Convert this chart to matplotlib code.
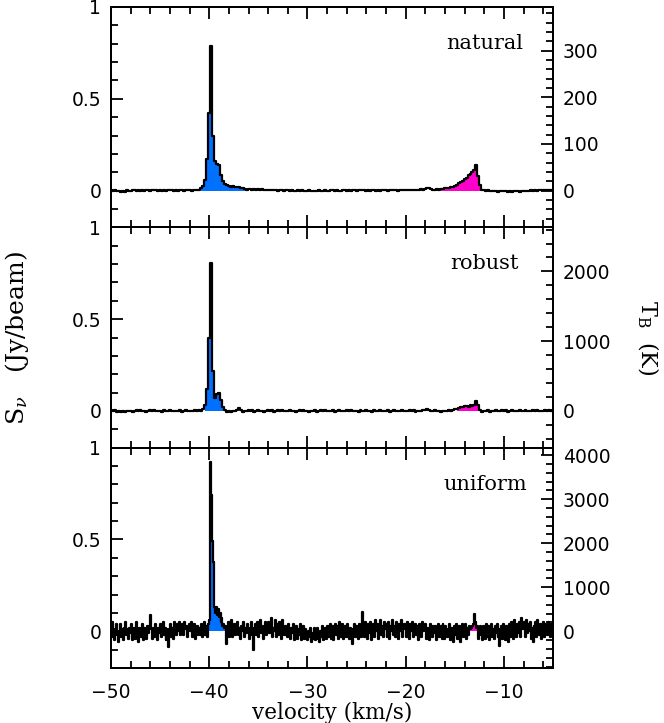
import numpy as np
import matplotlib
matplotlib.use("Agg")
import matplotlib.pyplot as plt
from matplotlib.ticker import MultipleLocator, FuncFormatter

# ---------------- data ----------------
v_start = -50.0
step_coarse = 0.2   # natural / robust channel width (km/s)
step_fine = 0.1     # uniform channel width (km/s)

flux_natural = [
    0.002, -0.003, 0.001, -0.004, 0.000, -0.006, -0.002, -0.005, 0.001, -0.003,
    -0.002, 0.001, 0.003, -0.001, 0.002, 0.000, 0.004, -0.002, 0.001, 0.003,
    -0.001, 0.002, 0.004, 0.001, -0.002, 0.003, 0.000, 0.002, -0.001, 0.003,
    0.001, 0.004, -0.001, 0.002, 0.000, 0.003, 0.001, -0.002, 0.002, 0.004,
    0.002, 0.000, 0.003, 0.001, 0.004, 0.006, 0.012, 0.025, 0.060, 0.170,
    0.420, 0.790, 0.300, 0.160, 0.145, 0.140, 0.085, 0.050, 0.035, 0.028,
    0.025, 0.022, 0.024, 0.020, 0.022, 0.018, 0.015, 0.012, 0.010, 0.006,
    0.008, 0.010, 0.006, 0.009, 0.004, 0.007, 0.005, 0.008, 0.003, 0.006,
    0.004, 0.002, 0.005, 0.001, 0.003, 0.000, 0.004, 0.002, -0.001, 0.003,
    0.001, -0.002, 0.002, 0.000, -0.003, 0.001, -0.001, 0.002, -0.002, 0.000,
    -0.003, 0.001, -0.002, -0.004, 0.000, -0.002, 0.001, -0.003, -0.001, 0.002,
    0.000, -0.002, 0.001, 0.003, -0.001, 0.002, 0.000, -0.002, 0.002, 0.001,
    -0.001, 0.002, 0.000, 0.003, 0.001, -0.001, 0.002, 0.004, 0.001, 0.003,
    0.000, 0.002, -0.001, 0.001, 0.003, 0.000, 0.002, -0.002, 0.001, 0.003,
    0.001, -0.001, 0.002, 0.004, 0.001, 0.003, 0.000, 0.002, 0.004, 0.002,
    0.003, 0.001, 0.004, 0.002, 0.005, 0.003, 0.006, 0.004, 0.007, 0.005,
    0.008, 0.014, 0.012, 0.010, 0.006, 0.005, 0.007, 0.006, 0.008, 0.010,
    0.012, 0.015, 0.014, 0.020, 0.018, 0.025, 0.030, 0.040, 0.048, 0.055,
    0.062, 0.070, 0.085, 0.090, 0.100, 0.110, 0.140, 0.080, 0.030, 0.005,
    0.002, -0.002, 0.001, -0.003, 0.000, -0.004, -0.002, -0.005, -0.003, -0.001,
    -0.004, -0.002, -0.006, -0.003, -0.005, -0.001, -0.004, -0.002, -0.005, -0.003,
    -0.001, -0.003, 0.000, -0.002, 0.001, -0.001, 0.002, 0.000, 0.003, 0.001,
    0.004, 0.002, 0.006, 0.003, 0.001, 0.003,
]

flux_robust = [
    0.003, -0.002, 0.004, -0.005, 0.001, -0.004, 0.002, -0.006, 0.000, -0.003,
    0.002, -0.004, 0.001, 0.003, -0.002, 0.004, -0.001, 0.002, -0.005, 0.001,
    0.003, -0.002, 0.004, 0.000, -0.003, 0.002, -0.004, 0.003, 0.001, -0.002,
    0.004, 0.000, -0.003, 0.002, -0.001, 0.003, -0.004, 0.001, 0.004, -0.002,
    0.002, -0.003, 0.001, 0.004, -0.002, 0.003, 0.000, 0.010, 0.030, 0.120,
    0.400, 0.805, 0.220, 0.070, 0.090, 0.100, 0.060, 0.020, 0.005, -0.004,
    0.002, -0.005, 0.001, -0.003, 0.004, 0.018, 0.006, -0.004, 0.002, -0.003,
    0.003, -0.002, 0.004, -0.004, 0.001, 0.003, -0.003, 0.002, -0.005, 0.001,
    0.004, -0.002, 0.003, -0.004, 0.000, 0.005, -0.002, 0.003, -0.003, 0.002,
    -0.001, 0.004, -0.003, 0.002, -0.004, 0.001, 0.003, -0.002, 0.004, -0.003,
    0.001, -0.004, 0.002, -0.002, 0.003, -0.005, 0.000, 0.003, -0.002, 0.004,
    -0.003, 0.002, -0.001, 0.004, -0.004, 0.001, 0.003, -0.002, 0.002, -0.003,
    0.003, -0.001, 0.004, -0.003, 0.002, 0.000, -0.004, 0.003, -0.002, 0.001,
    0.004, -0.002, 0.002, -0.004, 0.003, 0.000, -0.003, 0.004, -0.001, 0.002,
    -0.002, 0.003, -0.004, 0.001, 0.004, -0.002, 0.002, -0.003, 0.003, 0.000,
    0.002, -0.003, 0.004, -0.001, 0.003, -0.004, 0.001, 0.002, -0.002, 0.004,
    0.003, 0.012, 0.006, 0.002, -0.002, 0.003, -0.001, 0.002, -0.004, 0.001,
    0.002, -0.002, 0.003, -0.001, 0.005, 0.008, 0.012, 0.015, 0.020, 0.022,
    0.025, 0.028, 0.024, 0.030, 0.028, 0.030, 0.053, 0.035, 0.005, -0.004,
    0.002, -0.003, 0.003, -0.005, 0.001, -0.002, 0.004, -0.003, 0.000, 0.003,
    -0.002, 0.004, -0.004, 0.001, 0.003, -0.003, 0.002, -0.001, 0.004, -0.002,
    0.001, 0.003, -0.003, 0.002, -0.001, 0.004, -0.002, 0.003, 0.000, 0.002,
    -0.002, 0.004, 0.001, 0.003, 0.000, 0.005,
]

flux_uniform = [
    0.02, -0.03, 0.05, -0.01, -0.05, 0.01, 0.04, -0.02, -0.06, 0.00,
    0.04, -0.03, 0.01, -0.05, 0.02, 0.05, -0.02, 0.01, -0.04, 0.02,
    -0.01, 0.04, -0.05, 0.00, 0.02, -0.04, 0.05, -0.01, -0.06, 0.02,
    0.01, -0.03, 0.04, -0.05, 0.02, 0.00, -0.04, 0.03, -0.01, 0.03,
    0.09, 0.01, -0.04, 0.02, -0.03, 0.04, 0.00, -0.05, 0.02, -0.01,
    0.04, -0.03, 0.01, 0.05, -0.02, 0.02, -0.05, 0.01, -0.02, -0.085,
    0.01, 0.04, -0.03, 0.02, -0.04, 0.05, 0.01, -0.02, 0.04, 0.00,
    0.05, -0.02, 0.02, 0.04, -0.02, 0.05, 0.01, 0.03, -0.03, 0.02,
    0.04, 0.00, 0.05, -0.03, 0.02, 0.04, -0.04, 0.01, 0.03, -0.02,
    0.02, -0.02, 0.04, -0.03, 0.01, 0.05, -0.02, 0.03, -0.03, 0.04,
    0.06, 0.92, 0.74, 0.49, 0.38, 0.13, 0.10, 0.13, 0.09, 0.12,
    0.08, 0.10, 0.05, 0.07, 0.03, 0.04, 0.02, 0.03, -0.07, 0.01,
    0.05, -0.03, 0.03, 0.06, -0.03, 0.01, 0.04, -0.02, 0.02, 0.05,
    -0.02, 0.02, -0.04, 0.03, 0.00, 0.05, -0.03, 0.02, -0.01, 0.04,
    0.01, -0.04, 0.02, 0.05, -0.02, -0.10, 0.02, 0.04, -0.02, 0.05,
    -0.03, 0.02, 0.06, -0.01, 0.03, -0.04, 0.02, 0.05, -0.02, 0.01,
    0.05, -0.01, 0.03, 0.07, -0.03, 0.02, 0.00, 0.06, -0.03, 0.02,
    0.04, -0.02, 0.05, 0.01, -0.04, 0.06, 0.02, -0.02, 0.03, 0.00,
    -0.03, 0.04, 0.01, -0.04, 0.02, -0.01, 0.04, -0.05, 0.01, 0.03,
    -0.04, 0.01, -0.02, 0.04, -0.05, 0.00, 0.03, -0.04, 0.01, -0.02,
    -0.05, 0.00, -0.03, 0.02, -0.06, -0.01, -0.04, 0.02, -0.05, -0.02,
    0.02, -0.04, -0.06, 0.00, -0.03, 0.03, -0.05, -0.01, 0.02, -0.04,
    0.03, -0.03, 0.00, 0.04, -0.04, 0.01, 0.03, -0.05, 0.01, 0.04,
    -0.02, 0.03, -0.04, 0.05, 0.00, -0.03, 0.04, -0.04, 0.01, 0.03,
    -0.03, 0.04, 0.00, -0.04, 0.02, -0.01, -0.07, 0.01, 0.04, -0.03,
    0.03, 0.00, -0.04, 0.04, 0.01, -0.03, 0.105, 0.02, -0.03, 0.05,
    0.01, -0.04, 0.04, -0.01, 0.05, -0.05, 0.02, 0.04, -0.03, 0.06,
    0.00, 0.04, -0.04, 0.02, 0.06, -0.02, 0.03, -0.03, 0.05, 0.01,
    0.04, -0.03, 0.01, 0.05, -0.04, 0.03, 0.00, 0.06, -0.02, 0.03,
    -0.03, 0.05, 0.01, -0.04, 0.04, 0.00, 0.06, -0.03, 0.02, 0.04,
    0.01, -0.03, 0.05, 0.02, -0.04, 0.04, 0.00, 0.05, -0.03, 0.01,
    0.04, -0.02, 0.03, -0.05, 0.04, 0.01, -0.03, 0.05, 0.00, 0.03,
    0.04, -0.04, 0.02, 0.00, -0.05, 0.04, 0.01, -0.03, 0.03, -0.01,
    0.03, -0.05, 0.01, 0.04, -0.03, 0.00, 0.03, -0.04, 0.04, -0.01,
    -0.04, 0.03, 0.00, -0.03, 0.01, 0.04, -0.05, 0.02, 0.01, -0.06,
    0.03, -0.02, 0.04, -0.04, 0.01, 0.03, -0.06, 0.00, 0.04, -0.03,
    0.01, 0.04, -0.04, 0.02, -0.02, 0.03, 0.01, 0.02, 0.03, 0.04,
    0.095, 0.05, 0.02, 0.03, -0.04, 0.01, 0.03, -0.02, -0.05, 0.03,
    0.01, -0.04, 0.04, -0.03, 0.03, -0.05, 0.00, 0.04, -0.03, 0.01,
    -0.04, 0.03, -0.01, 0.04, -0.03, 0.01, -0.08, -0.02, 0.03, -0.04,
    0.04, -0.01, -0.05, 0.03, 0.00, -0.06, 0.04, -0.03, 0.05, 0.01,
    -0.04, 0.06, 0.00, -0.03, 0.04, -0.01, 0.05, -0.03, 0.07, 0.02,
    0.01, 0.05, -0.03, 0.06, -0.01, 0.04, 0.00, 0.05, -0.04, 0.02,
    -0.06, 0.03, 0.05, -0.03, 0.06, 0.01, -0.02, 0.04, -0.04, 0.02,
    0.05, -0.03, 0.04, 0.00, -0.02, 0.05, 0.02, -0.03, 0.04, 0.01,
    0.03,
]

panel_names = ["natural", "robust", "uniform"]
kelvin_per_jy = [393.6, 2632.0, 4170.0]
blue_windows = [(-40.9, -36.3), (-40.5, -38.4), (-40.15, -38.1)]
pink_windows = [(-16.4, -12.2), (-14.8, -12.3), (-15.5, -12.3)]
tb_major = [100, 1000, 1000]
tb_minor = [20, 200, 200]

spectra = [flux_natural, flux_robust, flux_uniform]
chan_steps = [step_coarse, step_coarse, step_fine]

# ---------------- style ----------------
plt.rcParams["font.family"] = ["DejaVu Sans"]
plt.rcParams["mathtext.fontset"] = "dejavuserif"
SERIF = "DejaVu Serif"
BLUE = "#0070ff"
PINK = "#ff00cc"
TICKFS = 13.5

fig = plt.figure(figsize=(6.64, 7.23), dpi=100)
left, right = 111 / 664, 553 / 664
top, bottom = 1 - 7 / 723, 1 - 668 / 723
ph = (top - bottom) / 3

fmt = FuncFormatter(lambda x, p: "%g" % x)

for k in range(3):
    y = np.asarray(spectra[k])
    vel = v_start + chan_steps[k] * np.arange(len(y))
    ax = fig.add_axes([left, top - (k + 1) * ph, right - left, ph])
    pos = np.clip(y, 0, None)
    for (lo, hi), col in ((blue_windows[k], BLUE), (pink_windows[k], PINK)):
        m = (vel >= lo - 1e-6) & (vel <= hi + 1e-6)
        ax.fill_between(vel, 0, pos, where=m, step="mid",
                        color=col, linewidth=0, zorder=1)
    ax.plot(vel, y, drawstyle="steps-mid", color="black", lw=1.6, zorder=2)
    ax.set_xlim(-50, -5)
    ax.set_ylim(-0.2, 1.0)
    ax.xaxis.set_major_locator(MultipleLocator(10))
    ax.xaxis.set_minor_locator(MultipleLocator(2))
    ax.yaxis.set_major_locator(MultipleLocator(0.5))
    ax.yaxis.set_minor_locator(MultipleLocator(0.1))
    ax.yaxis.set_major_formatter(fmt)
    ax.tick_params(which="both", direction="in", top=True, bottom=True,
                   left=True, right=False, width=1.3, labelsize=TICKFS)
    ax.tick_params(which="major", length=8.5)
    ax.tick_params(which="minor", length=4.8)
    ax.tick_params(axis="y", pad=7)
    ax.tick_params(axis="x", pad=11)
    for s in ax.spines.values():
        s.set_linewidth(1.4)
    if k < 2:
        ax.tick_params(labelbottom=False)
    else:
        ax.set_xlabel("velocity (km/s)", family=SERIF, fontsize=15.5, labelpad=0)

    ax.text(0.846, 0.835, panel_names[k], transform=ax.transAxes,
            ha="center", va="center", family=SERIF, fontsize=15)

    f = kelvin_per_jy[k]
    tx = ax.twinx()
    tx.set_ylim(-0.2 * f, 1.0 * f)
    tx.yaxis.set_major_locator(MultipleLocator(tb_major[k]))
    tx.yaxis.set_minor_locator(MultipleLocator(tb_minor[k]))
    tx.yaxis.set_major_formatter(fmt)
    tx.tick_params(which="both", direction="in", right=True, left=False,
                   width=1.3, labelsize=TICKFS, pad=7)
    tx.tick_params(which="major", length=8.5)
    tx.tick_params(which="minor", length=4.8)
    for s in tx.spines.values():
        s.set_linewidth(1.4)

fig.text(0.026, 0.533, r"S$_\nu$   (Jy/beam)", rotation=90, ha="center",
         va="center", family=SERIF, fontsize=18)
fig.text(0.976, 0.533, r"T$_{\rm B}$  (K)", rotation=-90, ha="center",
         va="center", family=SERIF, fontsize=16)

fig.savefig("out.png", dpi=100)
